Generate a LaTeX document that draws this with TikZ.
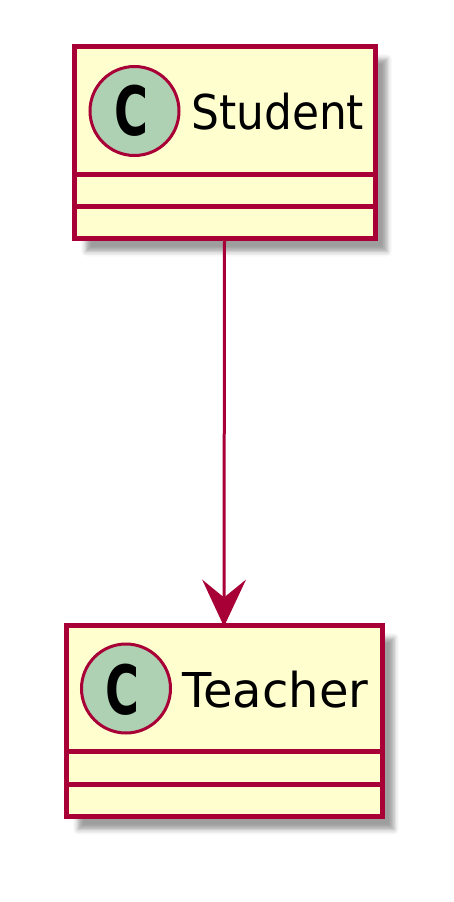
\documentclass[tikz,border=0pt]{standalone}
\usepackage{fontspec}
\setmainfont{DejaVu Sans}
\usetikzlibrary{shadows.blur,calc,arrows.meta}
\definecolor{umlborder}{HTML}{A80036}
\definecolor{umlfill}{HTML}{FEFECE}
\definecolor{umlcirc}{HTML}{ADD1B2}
\tikzset{
  classbox/.style={rectangle, draw=umlborder, fill=umlfill, line width=5pt, inner sep=0pt,
    anchor=north west,
    blur shadow={shadow xshift=12pt, shadow yshift=-13pt, shadow blur radius=5pt, shadow opacity=38}},
  sepline/.style={draw=umlborder, line width=5pt},
  classcirc/.style={circle, draw=umlborder, fill=umlcirc, line width=3pt, inner sep=0pt, minimum size=89pt},
  cletter/.style={inner sep=0pt, font=\fontsize{68}{68}\selectfont\bfseries},
  classname/.style={inner sep=0pt, anchor=base west, font=\fontsize{48}{48}\selectfont},
  conn/.style={draw=umlborder, line width=3pt, -{Stealth[length=47pt,width=44pt,inset=18pt,line width=0pt]}, shorten >=-4pt}
}
\begin{document}
\begin{tikzpicture}[x=1pt,y=-1pt]
\useasboundingbox (0,0) rectangle (454,902);
% Student
\node[classbox, minimum width=301pt, minimum height=192.5pt] (student) at (71.5,43.5) {};
\draw[sepline] ($(student.north west)+(2.5,130.5)$) coordinate (s1a) -- ($(student.north east)+(-2.5,130.5)$) coordinate (s1b);
\draw[sepline] ($(student.north west)+(2.5,162.5)$) coordinate (s2a) -- ($(student.north east)+(-2.5,162.5)$) coordinate (s2b);
\node[classcirc] (scirc) at (134.5,111) {};
\node[cletter] (sc) at ($(scirc)+(-3,0)$) {\scalebox{0.68}[1]{C}};
\node[classname] (sname) at (191,129) {\scalebox{0.915}[1]{Student}};
% Teacher
\node[classbox, minimum width=316pt, minimum height=191.5pt] (teacher) at (63.5,622.5) {};
\draw[sepline] ($(teacher.north west)+(2.5,129)$) coordinate (t1a) -- ($(teacher.north east)+(-2.5,129)$) coordinate (t1b);
\draw[sepline] ($(teacher.north west)+(2.5,162)$) coordinate (t2a) -- ($(teacher.north east)+(-2.5,162)$) coordinate (t2b);
\node[classcirc] (tcirc) at (126,688.5) {};
\node[cletter] (tc) at ($(tcirc)+(-4,1)$) {\scalebox{0.68}[1]{C}};
\node[classname] (tname) at (182,707) {\scalebox{1.0}[1]{Teacher}};
% connector
\draw[conn] (student.south) -- (teacher.north);
\end{tikzpicture}
\end{document}
